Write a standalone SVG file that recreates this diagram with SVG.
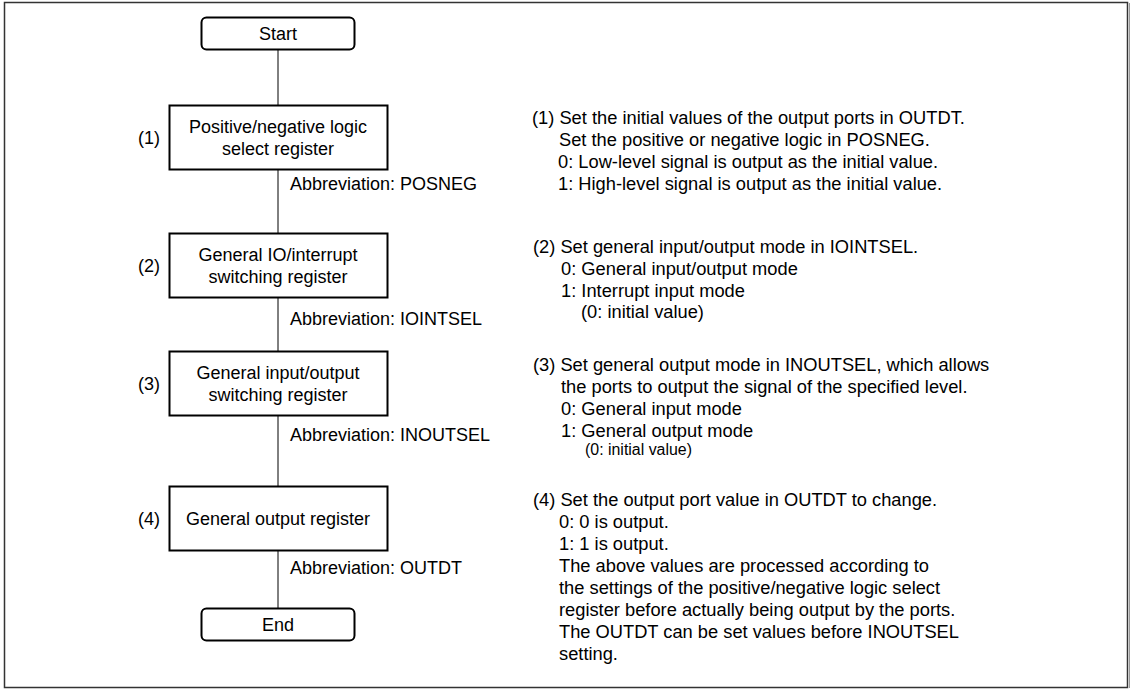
<svg xmlns="http://www.w3.org/2000/svg" width="1134" height="693" viewBox="0 0 1134 693">
<style>
text{font-family:"Liberation Sans",Arial,sans-serif;font-size:18px;fill:#000}
#notes text{font-size:18.3px}
.c{text-anchor:middle}
.box{fill:#fff;stroke:#000;stroke-width:2}
.ln{stroke:#000;stroke-width:1;fill:none}
#notes text.sm{font-size:16px}
</style>
<rect x="0" y="0" width="1134" height="693" fill="#fff"/>
<rect x="4.5" y="2.5" width="1123" height="685" fill="none" stroke="#333" stroke-width="1.5"/>
<line x1="1129.5" y1="3" x2="1129.5" y2="688" stroke="#999" stroke-width="1"/>
<g id="connectors">
<line class="ln" x1="278" y1="49" x2="278" y2="105"/>
<line class="ln" x1="278" y1="169" x2="278" y2="233"/>
<line class="ln" x1="278" y1="297" x2="278" y2="351"/>
<line class="ln" x1="278" y1="415" x2="278" y2="486"/>
<line class="ln" x1="278" y1="551" x2="278" y2="608"/>
</g>
<g id="start">
<rect class="box" x="201.5" y="17.5" width="153" height="32" rx="5"/>
<text class="c" x="278" y="40">Start</text>
</g>
<g id="step1">
<rect class="box" x="169.5" y="105.5" width="218" height="64"/>
<text class="c" x="278" y="133">Positive/negative logic</text>
<text class="c" x="278" y="155">select register</text>
<text x="138" y="144">(1)</text>
<text x="290" y="190">Abbreviation: POSNEG</text>
</g>
<g id="step2">
<rect class="box" x="169.5" y="233.5" width="218" height="64"/>
<text class="c" x="278" y="261">General IO/interrupt</text>
<text class="c" x="278" y="283">switching register</text>
<text x="138" y="272">(2)</text>
<text x="290" y="325">Abbreviation: IOINTSEL</text>
</g>
<g id="step3">
<rect class="box" x="169.5" y="351.5" width="218" height="64"/>
<text class="c" x="278" y="379">General input/output</text>
<text class="c" x="278" y="401">switching register</text>
<text x="138" y="390">(3)</text>
<text x="290" y="441">Abbreviation: INOUTSEL</text>
</g>
<g id="step4">
<rect class="box" x="169.5" y="486.5" width="218" height="64"/>
<text class="c" x="278" y="525">General output register</text>
<text x="138" y="525">(4)</text>
<text x="290" y="574">Abbreviation: OUTDT</text>
</g>
<g id="end">
<rect class="box" x="201.5" y="608.5" width="153" height="32" rx="5"/>
<text class="c" x="278" y="631">End</text>
</g>
<g id="notes">
<text x="532" y="124">(1) Set the initial values of the output ports in OUTDT.</text>
<text x="559" y="146">Set the positive or negative logic in POSNEG.</text>
<text x="558" y="168">0: Low-level signal is output as the initial value.</text>
<text x="558" y="190">1: High-level signal is output as the initial value.</text>
<text x="533" y="253">(2) Set general input/output mode in IOINTSEL.</text>
<text x="561" y="275">0: General input/output mode</text>
<text x="561" y="297">1: Interrupt input mode</text>
<text x="581" y="318">(0: initial value)</text>
<text x="533" y="371">(3) Set general output mode in INOUTSEL, which allows</text>
<text x="561" y="393">the ports to output the signal of the specified level.</text>
<text x="561" y="415">0: General input mode</text>
<text x="561" y="437">1: General output mode</text>
<text class="sm" x="585" y="455" textLength="107" lengthAdjust="spacingAndGlyphs">(0: initial value)</text>
<text x="533" y="506">(4) Set the output port value in OUTDT to change.</text>
<text x="559" y="528">0: 0 is output.</text>
<text x="559" y="550">1: 1 is output.</text>
<text x="559" y="572">The above values are processed according to</text>
<text x="559" y="594">the settings of the positive/negative logic select</text>
<text x="559" y="616">register before actually being output by the ports.</text>
<text x="559" y="638">The OUTDT can be set values before INOUTSEL</text>
<text x="559" y="660">setting.</text>
</g>
</svg>
